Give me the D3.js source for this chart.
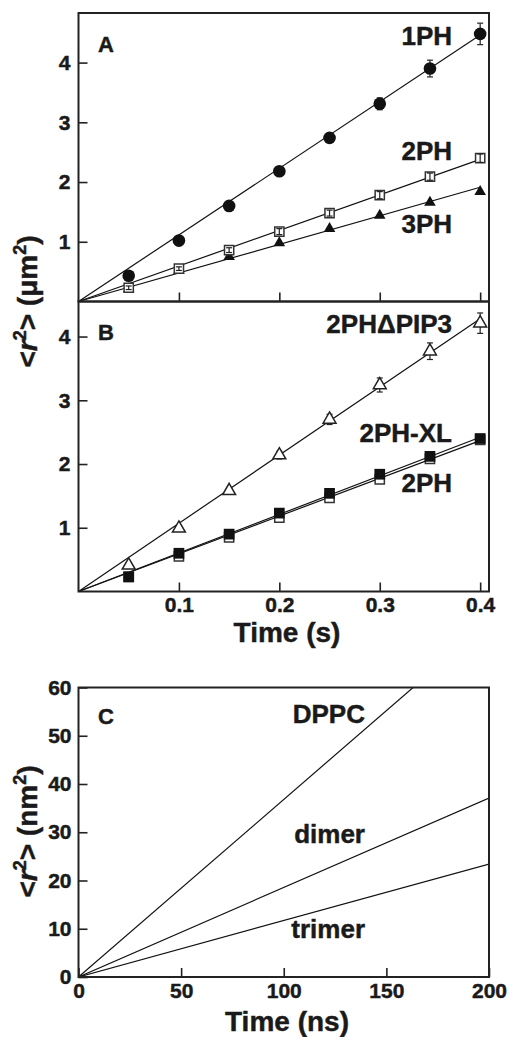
<!DOCTYPE html>
<html>
<head>
<meta charset="utf-8">
<script src="https://cdn.jsdelivr.net/npm/d3@7"></script>
<style>
body { margin: 0; background: #fff; }
text { font-family: "Liberation Sans", Arial, Helvetica, sans-serif; font-weight: bold; fill: #1a1a1a; stroke: #1a1a1a; stroke-width: 0.45px; }
</style>
</head>
<body>
<svg id="chart" width="510" height="1037"></svg>
<script>
// time points (s) for panels A and B
var timeS = [0.05, 0.1, 0.15, 0.2, 0.25, 0.3, 0.35, 0.4];

// panel A  <r2> (um2)
var ph1 = [0.43, 1.02, 1.60, 2.18, 2.74, 3.31, 3.90, 4.48];
var ph1Err = [0.02, 0.03, 0.03, 0.04, 0.05, 0.10, 0.14, 0.18];
var ph2 = [0.23, 0.55, 0.86, 1.17, 1.48, 1.78, 2.09, 2.40];
var ph2Err = [0.03, 0.03, 0.04, 0.05, 0.05, 0.06, 0.06, 0.07];
var ph3 = [0.21, 0.52, 0.75, 0.98, 1.22, 1.44, 1.66, 1.84];
var fitNamesA = ['1PH', '2PH', '3PH'];
var fitSlopesA = [11.15, 5.95, 4.78];   // um2 per s, fits through origin

// panel B
var ph2dPIP3 = [0.41, 0.99, 1.58, 2.14, 2.70, 3.24, 3.77, 4.21];
var ph2dPIP3Err = [0.03, 0.04, 0.05, 0.06, 0.08, 0.11, 0.13, 0.16];
var ph2XL = [0.23, 0.60, 0.90, 1.23, 1.54, 1.84, 2.12, 2.40];
var ph2B = [0.23, 0.55, 0.85, 1.16, 1.47, 1.76, 2.08, 2.38];
var fitNamesB = ['2PH\u0394PIP3', '2PH-XL', '2PH'];
var fitSlopesB = [10.7, 6.05, 5.92];

// panel C  simulated <r2> (nm2), straight lines from origin
var timeNs = [0, 200];
var simNames = ['DPPC', 'dimer', 'trimer'];
var simEnd = [73.6, 37.1, 23.4];   // value at 200 ns

var svg = d3.select('#chart');
svg.append('rect').attr('width', 510).attr('height', 1037).attr('fill', '#fff');

// scales
var x = d3.scaleLinear().domain([0, 0.4088]).range([78.5, 489]);
var yA = d3.scaleLinear().domain([0, 4.83]).range([301.5, 13]);
var yB = d3.scaleLinear().domain([0, 4.55]).range([591.5, 301.5]);
var xC = d3.scaleLinear().domain([0, 200]).range([78.5, 489]);
var yC = d3.scaleLinear().domain([0, 60]).range([977, 687.5]);

function styleAxis(g) {
  g.select('.domain').remove();
  g.selectAll('.tick line').attr('stroke', '#222').attr('stroke-width', 1.6);
  g.selectAll('.tick text').attr('font-size', 21);
}

function frame(xs, ys) {
  svg.append('rect')
    .attr('x', xs.range()[0]).attr('y', ys.range()[1])
    .attr('width', xs.range()[1] - xs.range()[0])
    .attr('height', ys.range()[0] - ys.range()[1])
    .attr('fill', 'none').attr('stroke', '#222').attr('stroke-width', 2);
}

// axes ---------------------------------------------------------------
svg.append('g').attr('transform', 'translate(78.5,0)')
  .call(d3.axisLeft(yA).tickValues([1, 2, 3, 4]).tickSize(-9).tickPadding(8).tickFormat(d3.format('d')))
  .call(styleAxis);
svg.append('g').attr('transform', 'translate(0,301.5)')
  .call(d3.axisBottom(x).tickValues([0.1, 0.2, 0.3, 0.4]).tickSize(-9).tickFormat(''))
  .call(styleAxis);

svg.append('g').attr('transform', 'translate(78.5,0)')
  .call(d3.axisLeft(yB).tickValues([1, 2, 3, 4]).tickSize(-9).tickPadding(8).tickFormat(d3.format('d')))
  .call(styleAxis);
svg.append('g').attr('transform', 'translate(0,591.5)')
  .call(d3.axisBottom(x).tickValues([0.1, 0.2, 0.3, 0.4]).tickSize(-9).tickPadding(6).tickFormat(d3.format('.1f')))
  .call(styleAxis);

svg.append('g').attr('transform', 'translate(78.5,0)')
  .call(d3.axisLeft(yC).tickValues(d3.range(0, 61, 10)).tickSize(-9).tickPadding(7))
  .call(styleAxis);
svg.append('g').attr('transform', 'translate(0,977)')
  .call(d3.axisBottom(xC).tickValues(d3.range(0, 201, 50)).tickSize(-9).tickPadding(6))
  .call(styleAxis);

// helpers ------------------------------------------------------------
function fitLine(slope, ys) {
  svg.append('path')
    .datum([[0, 0], [0.4, slope * 0.4]])
    .attr('d', d3.line().x(function(d){ return x(d[0]); }).y(function(d){ return ys(d[1]); }))
    .attr('fill', 'none').attr('stroke', '#111').attr('stroke-width', 1.2);
}

function errBars(vals, errs, ys) {
  var g = svg.append('g').attr('stroke', '#222').attr('stroke-width', 1.2);
  timeS.forEach(function(t, i) {
    var cx = x(t), top = ys(vals[i] + errs[i]), bot = ys(vals[i] - errs[i]);
    g.append('line').attr('x1', cx).attr('x2', cx).attr('y1', top).attr('y2', bot);
    g.append('line').attr('x1', cx - 3).attr('x2', cx + 3).attr('y1', top).attr('y2', top);
    g.append('line').attr('x1', cx - 3).attr('x2', cx + 3).attr('y1', bot).attr('y2', bot);
  });
}

function markers(vals, ys, type, size, fill, stroke) {
  svg.append('g').selectAll('path').data(vals).enter().append('path')
    .attr('transform', function(d, i){ return 'translate(' + x(timeS[i]) + ',' + ys(d) + ')'; })
    .attr('d', d3.symbol().type(type).size(size))
    .attr('fill', fill).attr('stroke', stroke).attr('stroke-width', 1.5);
}

function label(txt, xEnd, yBase, size) {
  svg.append('text').attr('x', xEnd).attr('y', yBase)
    .attr('text-anchor', 'end').attr('font-size', size).text(txt);
}

// panel A --------------------------------------------------------------
fitSlopesA.forEach(function(s){ fitLine(s, yA); });
errBars(ph1, ph1Err, yA);
markers(ph1, yA, d3.symbolCircle, 125, '#111', 'none');
markers(ph3, yA, d3.symbolTriangle, 58, '#111', 'none');
markers(ph2, yA, d3.symbolSquare, 85, '#fff', '#333');
errBars(ph2, ph2Err, yA);

label(fitNamesA[0], 452, 45, 26);
label(fitNamesA[1], 452, 160, 26);
label(fitNamesA[2], 452, 233, 26);
svg.append('text').attr('x', 98).attr('y', 52).attr('font-size', 22).text('A');

// panel B --------------------------------------------------------------
fitSlopesB.forEach(function(s){ fitLine(s, yB); });
errBars(ph2dPIP3, ph2dPIP3Err, yB);
markers(ph2dPIP3, yB, d3.symbolTriangle, 72, '#fff', '#222');
markers(ph2B, yB, d3.symbolSquare, 85, '#fff', '#333');
markers(ph2XL, yB, d3.symbolSquare, 115, '#111', 'none');

label(fitNamesB[0], 452, 333, 26);
label(fitNamesB[1], 452, 442, 26);
label(fitNamesB[2], 452, 492, 26);
svg.append('text').attr('x', 98).attr('y', 340).attr('font-size', 22).text('B');

// panel C --------------------------------------------------------------
svg.append('clipPath').attr('id', 'clipC').append('rect')
  .attr('x', 78.5).attr('y', 687.5).attr('width', 410.5).attr('height', 289.5);
var cLines = svg.append('g').attr('clip-path', 'url(#clipC)');
simEnd.forEach(function(v) {
  cLines.append('path')
    .datum([[timeNs[0], 0], [timeNs[1], v]])
    .attr('d', d3.line().x(function(d){ return xC(d[0]); }).y(function(d){ return yC(d[1]); }))
    .attr('fill', 'none').attr('stroke', '#111').attr('stroke-width', 1.2);
});
label(simNames[0], 365, 723, 26);
label(simNames[1], 365, 843, 26);
label(simNames[2], 365, 938, 26);
svg.append('text').attr('x', 98).attr('y', 724).attr('font-size', 22).text('C');

// frames
frame(x, yA);
frame(x, yB);
frame(xC, yC);

// axis titles ----------------------------------------------------------
function yTitle(cy, unit) {
  var t = svg.append('text').attr('transform', 'translate(37,' + cy + ') rotate(-90)')
    .attr('text-anchor', 'middle').attr('font-size', 28);
  t.append('tspan').text('<');
  t.append('tspan').attr('font-style', 'italic').text('r');
  t.append('tspan').attr('font-size', 18).attr('dy', -11).text('2');
  t.append('tspan').attr('dy', 11).text('> (' + unit);
  t.append('tspan').attr('font-size', 18).attr('dy', -11).text('2');
  t.append('tspan').attr('dy', 11).text(')');
}
yTitle(301.5, '\u03bcm');
yTitle(831.5, 'nm');

svg.append('text').attr('x', 287).attr('y', 642).attr('text-anchor', 'middle')
  .attr('font-size', 28).text('Time (s)');
svg.append('text').attr('x', 287).attr('y', 1031).attr('text-anchor', 'middle')
  .attr('font-size', 28).text('Time (ns)');
</script>
</body>
</html>
